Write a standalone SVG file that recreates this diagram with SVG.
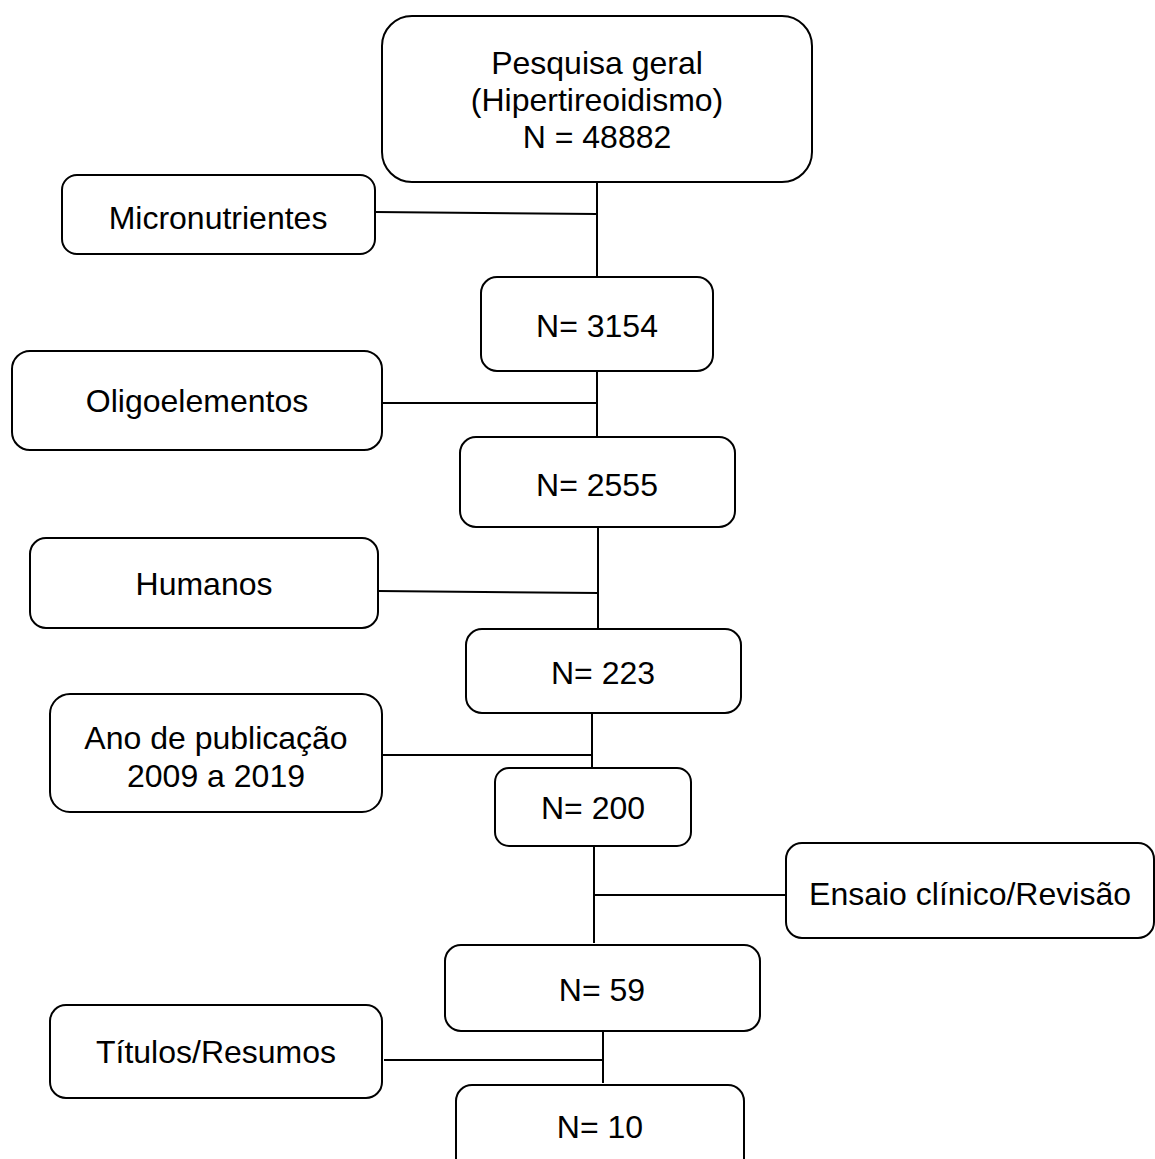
<svg xmlns="http://www.w3.org/2000/svg" width="1155" height="1159" viewBox="0 0 1155 1159">
<style>
.box{fill:#fff;stroke:#000;stroke-width:2}
.t{font-family:"Liberation Sans",Arial,sans-serif;font-size:32px;fill:#000;text-anchor:middle}
.ln{stroke:#000;stroke-width:2;fill:none}
</style>
<rect width="1155" height="1159" fill="#fff"/>
<g id="connectors">
<line class="ln" x1="597" y1="182" x2="597" y2="277"/>
<line class="ln" x1="375" y1="212" x2="597" y2="214"/>
<line class="ln" x1="597" y1="371" x2="597" y2="437"/>
<line class="ln" x1="382" y1="403" x2="597" y2="403"/>
<line class="ln" x1="598" y1="527" x2="598" y2="629"/>
<line class="ln" x1="378" y1="591" x2="599" y2="593"/>
<line class="ln" x1="592" y1="713" x2="592" y2="770"/>
<line class="ln" x1="382" y1="755" x2="592" y2="755"/>
<line class="ln" x1="594" y1="846" x2="594" y2="943"/>
<line class="ln" x1="594" y1="895" x2="786" y2="895"/>
<line class="ln" x1="603" y1="1031" x2="603" y2="1083"/>
<line class="ln" x1="384" y1="1060" x2="603" y2="1060"/>
</g>
<g id="n1"><rect class="box" x="382" y="16" width="430" height="166" rx="30"/>
<text class="t" x="597" y="74">Pesquisa geral</text>
<text class="t" x="597" y="111">(Hipertireoidismo)</text>
<text class="t" x="597" y="148">N = 48882</text></g>
<g id="n2"><rect class="box" x="62" y="175" width="313" height="79" rx="15"/>
<text class="t" x="218" y="229">Micronutrientes</text></g>
<g id="n3"><rect class="box" x="481" y="277" width="232" height="94" rx="16"/>
<text class="t" x="597" y="337">N= 3154</text></g>
<g id="n4"><rect class="box" x="12" y="351" width="370" height="99" rx="18"/>
<text class="t" x="197" y="412">Oligoelementos</text></g>
<g id="n5"><rect class="box" x="460" y="437" width="275" height="90" rx="16"/>
<text class="t" x="597" y="496">N= 2555</text></g>
<g id="n6"><rect class="box" x="30" y="538" width="348" height="90" rx="16"/>
<text class="t" x="204" y="595">Humanos</text></g>
<g id="n7"><rect class="box" x="466" y="629" width="275" height="84" rx="16"/>
<text class="t" x="603" y="684">N= 223</text></g>
<g id="n8"><rect class="box" x="50" y="694" width="332" height="118" rx="20"/>
<text class="t" x="216" y="749">Ano de publicação</text>
<text class="t" x="216" y="787">2009 a 2019</text></g>
<g id="n9"><rect class="box" x="495" y="768" width="196" height="78" rx="14"/>
<text class="t" x="593" y="819">N= 200</text></g>
<g id="n10"><rect class="box" x="786" y="843" width="368" height="95" rx="16"/>
<text class="t" x="970" y="905">Ensaio clínico/Revisão</text></g>
<g id="n11"><rect class="box" x="445" y="945" width="315" height="86" rx="16"/>
<text class="t" x="602" y="1001">N= 59</text></g>
<g id="n12"><rect class="box" x="50" y="1005" width="332" height="93" rx="16"/>
<text class="t" x="216" y="1063">Títulos/Resumos</text></g>
<g id="n13"><rect class="box" x="456" y="1085" width="288" height="100" rx="16"/>
<text class="t" x="600" y="1138">N= 10</text></g>
</svg>
